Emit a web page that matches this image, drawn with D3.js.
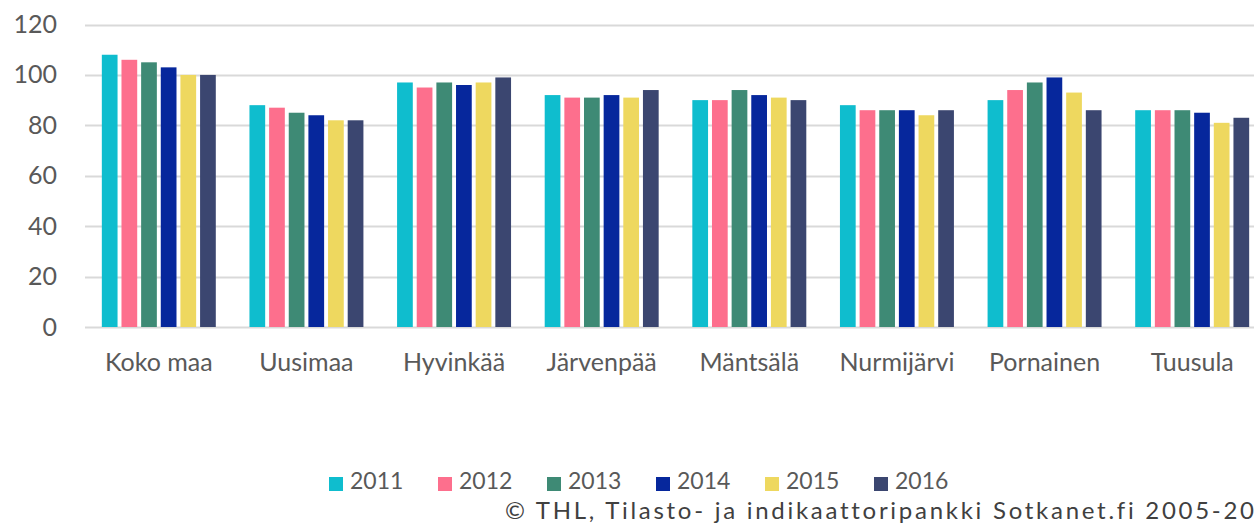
<!DOCTYPE html>
<html>
<head>
<meta charset="utf-8">
<script src="https://cdn.jsdelivr.net/npm/d3@7"></script>
<style>
  body { margin: 0; background: #fff; }
  svg { display: block; font-variant-ligatures: none; }
</style>
</head>
<body>
<div class="chart"></div>
<script>
// data
const categories = ['Koko maa', 'Uusimaa', 'Hyvinkää', 'Järvenpää', 'Mäntsälä', 'Nurmijärvi', 'Pornainen', 'Tuusula']
const years = ['2011', '2012', '2013', '2014', '2015', '2016']
const v2011 = [108, 88, 97, 92, 90, 88, 90, 86]
const v2012 = [106, 87, 95, 91, 90, 86, 94, 86]
const v2013 = [105, 85, 97, 91, 94, 86, 97, 86]
const v2014 = [103, 84, 96, 92, 92, 86, 99, 85]
const v2015 = [100, 82, 97, 91, 91, 84, 93, 81]
const v2016 = [100, 82, 99, 94, 90, 86, 86, 83]
const yTicks = [0, 20, 40, 60, 80, 100, 120]
const colors = ['#0fbdce', '#fd6f8d', '#3e8a75', '#06279c', '#eed85f', '#3b4670']
const copyright = '© THL, Tilasto- ja indikaattoripankki Sotkanet.fi 2005-20'

const series = [v2011, v2012, v2013, v2014, v2015, v2016]

const width = 1254
const height = 524
const fontFamily = 'Lato, sans-serif'
const textColor = '#595959'
const margin = {left: 85, right: -12, top: 24, bottom: 197}

const svg = d3.select('.chart').append('svg')
  .attr('width', width)
  .attr('height', height)
  .attr('font-family', fontFamily)

const x0 = d3.scaleBand()
  .domain(categories)
  .range([margin.left, width - margin.right])
  .paddingInner(0.228)
  .paddingOuter(0.114)

const x1 = d3.scaleBand()
  .domain(years)
  .range([0, x0.bandwidth()])
  .paddingInner(0.2)

const y = d3.scaleLinear()
  .domain([0, 120])
  .range([height - margin.bottom, margin.top + 0.5])

// gridlines
svg.append('g')
  .selectAll('line')
  .data(yTicks)
  .join('line')
  .attr('x1', margin.left)
  .attr('x2', width)
  .attr('y1', d => Math.round(y(d)) + 0.5)
  .attr('y2', d => Math.round(y(d)) + 0.5)
  .attr('stroke', '#d9d9d9')
  .attr('stroke-width', 2)

// y axis labels
const yAxis = d3.axisLeft(y).tickValues(yTicks).tickSize(0).tickPadding(0)
svg.append('g')
  .attr('transform', `translate(57,0)`)
  .call(yAxis)
  .call(g => g.select('.domain').remove())
  .call(g => g.selectAll('text')
    .attr('font-family', fontFamily)
    .attr('font-size', 25)
    .attr('fill', textColor))

// bars
const groups = svg.append('g')
  .selectAll('g')
  .data(categories)
  .join('g')
  .attr('transform', d => `translate(${x0(d)},0)`)

groups.selectAll('rect')
  .data((d, i) => years.map((yr, k) => ({year: yr, value: series[k][i], k})))
  .join('rect')
  .attr('x', d => x1(d.year))
  .attr('width', x1.bandwidth())
  .attr('y', d => y(d.value))
  .attr('height', d => y(0) - y(d.value))
  .attr('fill', d => colors[d.k])

// category labels
const xAxis = d3.axisBottom(x0).tickSize(0).tickPadding(0)
svg.append('g')
  .attr('transform', `translate(0,${y(0) + 26})`)
  .call(xAxis)
  .call(g => g.select('.domain').remove())
  .call(g => g.selectAll('text')
    .attr('font-family', fontFamily)
    .attr('font-size', 25)
    .attr('fill', textColor))

// legend
const legendX = d3.scaleBand().domain(years).range([329, 983])
const legend = svg.append('g')
  .selectAll('g')
  .data(years)
  .join('g')
  .attr('transform', d => `translate(${legendX(d)},477)`)

legend.append('rect')
  .attr('width', 14)
  .attr('height', 14)
  .attr('fill', (d, i) => colors[i])

legend.append('text')
  .attr('x', 21)
  .attr('y', 12)
  .attr('font-size', 23)
  .attr('fill', textColor)
  .text(d => d)

svg.append('text')
  .attr('x', 505)
  .attr('y', 518.5)
  .attr('textLength', 749)
  .attr('lengthAdjust', 'spacing')
  .attr('font-size', 24)
  .attr('fill', '#404040')
  .text(copyright)
</script>
</body>
</html>
